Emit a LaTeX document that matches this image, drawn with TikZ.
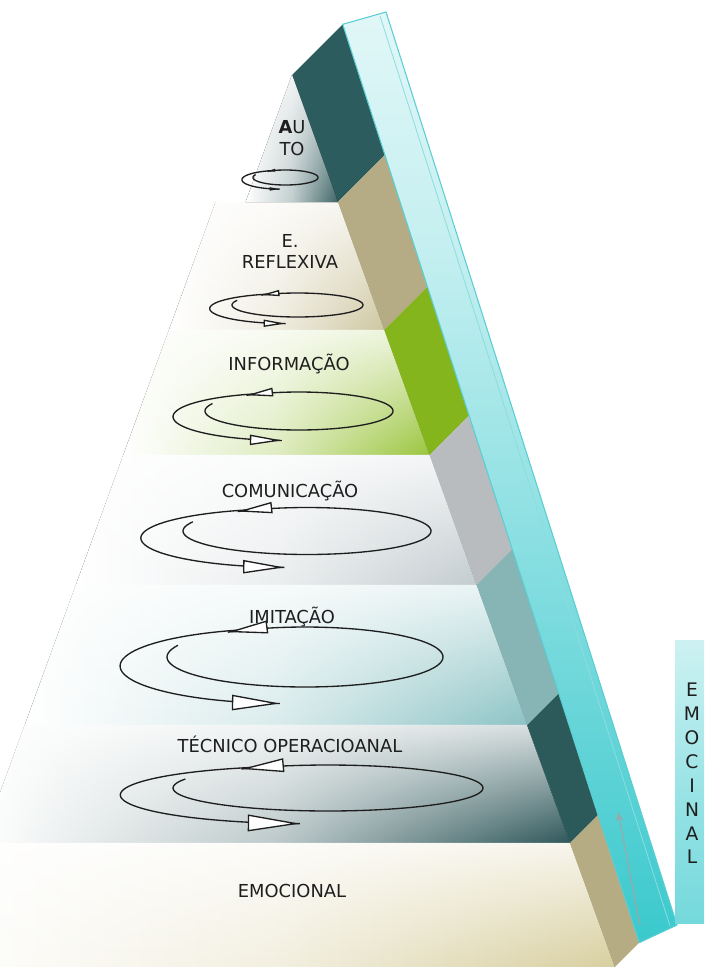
\documentclass[tikz,border=0pt]{standalone}
\usepackage{fontspec}
\setmainfont{DejaVu Sans}
\usetikzlibrary{arrows.meta,fadings}

\definecolor{autoside}{RGB}{44,92,93}
\definecolor{autofront}{RGB}{62,100,102}
\definecolor{reflexside}{RGB}{181,172,134}
\definecolor{reflexfront}{RGB}{207,199,162}
\definecolor{infoside}{RGB}{133,181,28}
\definecolor{infofront}{RGB}{155,197,62}
\definecolor{comside}{RGB}{185,188,191}
\definecolor{comfront}{RGB}{195,204,207}
\definecolor{imitside}{RGB}{135,180,180}
\definecolor{imitfront}{RGB}{140,195,197}
\definecolor{tecside}{RGB}{44,90,91}
\definecolor{tecfront}{RGB}{47,87,90}
\definecolor{emoside}{RGB}{182,172,131}
\definecolor{emofront}{RGB}{216,207,159}
\definecolor{stripcyan}{RGB}{58,201,205}
\definecolor{stripline}{RGB}{90,206,210}
\definecolor{tipgray}{RGB}{160,165,165}
\definecolor{inkgray}{RGB}{30,30,30}

\tikzfading[name=fadedown, top color=transparent!0, bottom color=transparent!100]
\pgfdeclareverticalshading{stripfade}{100bp}{color(0bp)=(stripcyan); color(25bp)=(stripcyan); color(62bp)=(stripcyan!30!white); color(88bp)=(white); color(100bp)=(white)}
\pgfdeclareverticalshading{boxfade}{100bp}{color(0bp)=(stripcyan!90!white); color(45bp)=(stripcyan!55!white); color(100bp)=(white)}

\tikzset{
  lvl/.style={font=\fontsize{13.4}{16}\selectfont, text=inkgray, inner sep=0pt, anchor=base},
  vlbl/.style={font=\fontsize{14}{17.9}\selectfont, text=inkgray, inner sep=0pt, align=center, anchor=north},
  cyc/.style={line width=1pt, inkgray},
  cyctip/.style={cyc, -{Triangle[fill=white, length=10pt, width=3.2pt, scale=#1]}},
}

% loop mark: centre, radii of the inner ring, top tip, bottom tip
\newcommand{\cyclemark}[6]{%
  \draw[cyc] plot[domain=157:484, samples=90] ({#1+#3*cos(\x)}, {#2-#4*sin(\x)});
  \draw[cyc] plot[domain=105:268, samples=60] ({#1-0.14*#3+1.2*#3*cos(\x)}, {#2+0.3*#4-1.25*#4*sin(\x)});
  \draw[cyctip=#5] ({#1+#3*cos(478)}, {#2-#4*sin(478)}) -- ({#1+#3*cos(484)}, {#2-#4*sin(484)});
  \draw[cyctip=#6] ({#1-0.14*#3+1.2*#3*cos(262)}, {#2+0.3*#4-1.25*#4*sin(262)})
    -- ({#1-0.14*#3+1.2*#3*cos(268)}, {#2+0.3*#4-1.25*#4*sin(268)});
}

\begin{document}
\begin{tikzpicture}[x=0.75pt, y=-0.75pt]
  \clip (0,0) rectangle (704,967);
  \fill[white] (0,0) rectangle (704,967);

  % front bands and side blocks
  \foreach \ya/\yb/\fc/\sc in {75/202/autofront/autoside, 202/330/reflexfront/reflexside,
      330/455/infofront/infoside, 455/585/comfront/comside, 585/725/imitfront/imitside,
      725/843/tecfront/tecside, 843/967/emofront/emoside}{
    \pgfmathsetmacro{\la}{292-0.365*(\ya-75)-30}
    \pgfmathsetmacro{\lb}{292-0.365*(\yb-75)-30}
    \pgfmathsetmacro{\ra}{292+0.362*(\ya-75)}
    \pgfmathsetmacro{\rb}{292+0.362*(\yb-75)}
    \pgfmathsetmacro{\ta}{(70.05-0.039*\ya)/1.323}
    \pgfmathsetmacro{\tb}{(70.05-0.039*\yb)/1.323}
    \fill[left color=white, right color=\fc, middle color=\fc!32!white]
      (\la,\ya) -- (\ra,\ya) -- (\rb,\yb) -- (\lb,\yb) -- cycle;
    \fill[white, path fading=fadedown, fill opacity=0.8]
      (\la,\ya) -- (\ra,\ya) -- (\rb,\yb) -- (\lb,\yb) -- cycle;
    \fill[\sc] (\ra,\ya) -- ({\ra+\ta},{\ya-\ta}) -- ({\rb+\tb},{\yb-\tb}) -- (\rb,\yb) -- cycle;
  }
  % keep the apex clean
  \fill[white] (200,0) -- (292,0) -- (292,75) -- (245.6,202) -- (200,202) -- cycle;
  \fill[left color=white, right color=autofront, middle color=autofront!32!white]
    (292,75) -- (338,202) -- (245.6,202) -- cycle;
  \fill[white, path fading=fadedown, fill opacity=0.8] (292,75) -- (338,202) -- (245.6,202) -- cycle;

  % slanted board
  \shade[shading=stripfade, draw=stripline, line width=0.8pt]
    (342.7,24.3) -- (386,12) -- (677,925) -- (639.3,942.6) -- cycle;
  \draw[stripline!70, line width=0.6pt] (380,16) -- (670,926);
  \coordinate (tipfoot) at (640,925);
  \coordinate (tiphead) at (618,812);
  \draw[tipgray, line width=0.8pt, -{Stealth[length=7pt, width=5pt]}] (tipfoot) -- (tiphead);

  % side caption
  \shade[shading=boxfade] (675,640) rectangle (704,923);
  \node[vlbl] (sidetxt) at (692,683) {E\\M\\O\\C\\I\\N\\A\\L};

  % level labels
  \node[lvl] (autolbla) at (292,133) {\textbf{A}U};
  \node[lvl] (autolblb) at (292,155) {TO};
  \node[lvl] (reflexlbla) at (290,247) {E.};
  \node[lvl] (reflexlblb) at (290,268) {REFLEXIVA};
  \node[lvl] (infolbl) at (289,370) {INFORMAÇÃO};
  \node[lvl] (comlbl) at (290,497) {COMUNICAÇÃO};
  \node[lvl] (imitlbl) at (292,623) {IMITAÇÃO};
  \node[lvl] (teclbl) at (290,752) {TÉCNICO OPERACIOANAL};
  \node[lvl] (emolbl) at (292,897) {EMOCIONAL};

  % loop marks
  \cyclemark{285.5}{177.5}{32.5}{7.5}{0.6}{0.75}
  \cyclemark{297.5}{305}{65.5}{12}{1.4}{1.65}
  \cyclemark{299}{411}{94}{19}{2.0}{2.4}
  \cyclemark{307}{531}{124}{23.5}{2.6}{3.1}
  \cyclemark{305}{657}{138}{30}{3.0}{3.6}
  \cyclemark{328}{788}{155}{23}{3.2}{3.9}
\end{tikzpicture}
\end{document}
